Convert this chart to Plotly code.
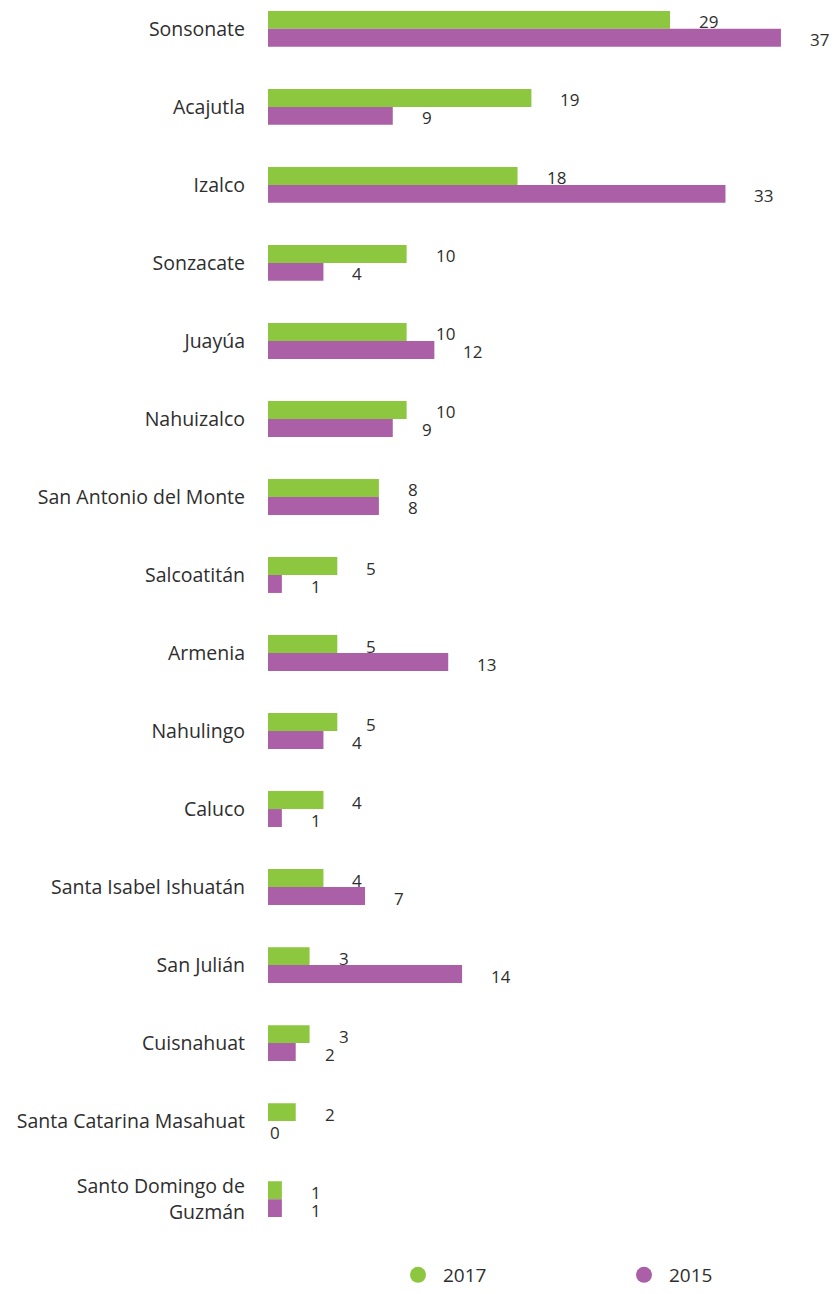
import plotly.graph_objects as go

# Municipios del departamento de Sonsonate, de arriba hacia abajo
municipios = [
    "Sonsonate", "Acajutla", "Izalco", "Sonzacate", "Juayúa", "Nahuizalco",
    "San Antonio del Monte", "Salcoatitán", "Armenia", "Nahulingo", "Caluco",
    "Santa Isabel Ishuatán", "San Julián", "Cuisnahuat",
    "Santa Catarina Masahuat", "Santo Domingo de<br>Guzmán",
]
valores_2017 = [29, 19, 18, 10, 10, 10, 8, 5, 5, 5, 4, 4, 3, 3, 2, 1]
valores_2015 = [37, 9, 33, 4, 12, 9, 8, 1, 13, 4, 1, 7, 14, 2, 0, 1]

VERDE = "#8DC63F"
MORADO = "#AA5FA6"
TEXTO = "#2E2E2E"
FUENTE = "'Open Sans', Arial, sans-serif"

ALTO = 1294
fig = go.Figure()

for nombre, valores, color in [("2017", valores_2017, VERDE), ("2015", valores_2015, MORADO)]:
    fig.add_trace(go.Bar(
        y=municipios, x=valores, name=nombre, orientation="h",
        marker=dict(color=color, line=dict(width=0)),
        showlegend=False, hoverinfo="x+y",
    ))

# Leyenda con círculos, una entrada por leyenda
for nombre, color, leyenda in [("2017", VERDE, "legend"), ("2015", MORADO, "legend2")]:
    fig.add_trace(go.Scatter(
        x=[None], y=[None], mode="markers", name=nombre,
        marker=dict(symbol="circle", size=18, color=color),
        showlegend=True, legend=leyenda,
    ))

# Etiquetas de valor a la derecha de cada barra
for valores, yshift in [(valores_2017, 7.5), (valores_2015, -10.5)]:
    for cat, v in zip(municipios, valores):
        fig.add_annotation(
            x=v, y=cat, text=str(v), showarrow=False,
            xanchor="left", yanchor="middle", height=16, valign="middle",
            xshift=27 if v > 0 else 0, yshift=yshift,
            font=dict(family=FUENTE, size=17, color=TEXTO),
        )

n = len(municipios)
estilo_leyenda = dict(
    orientation="h", yanchor="middle", xanchor="left", y=13 / ALTO,
    font=dict(family=FUENTE, size=19, color=TEXTO),
    bgcolor="rgba(0,0,0,0)", itemsizing="trace", itemwidth=40,
)
fig.update_layout(
    width=835, height=ALTO,
    margin=dict(l=268, r=0, t=0, b=0),
    paper_bgcolor="white", plot_bgcolor="white",
    barmode="group", bargap=0.54, bargroupgap=0,
    font=dict(family=FUENTE, size=19, color=TEXTO),
    xaxis=dict(range=[0, 40.9], visible=False, fixedrange=True),
    yaxis=dict(
        type="category", range=[n - 0.55, -0.37],
        domain=[54 / ALTO, 1],
        showgrid=False, zeroline=False, showline=False,
        ticks="", ticklabelstandoff=22, automargin=False,
        tickfont=dict(family=FUENTE, size=19.5, color=TEXTO),
    ),
    legend=dict(estilo_leyenda, x=(393 - 268) / 567),
    legend2=dict(estilo_leyenda, x=(619 - 268) / 567),
)

fig.write_html("out.html")
